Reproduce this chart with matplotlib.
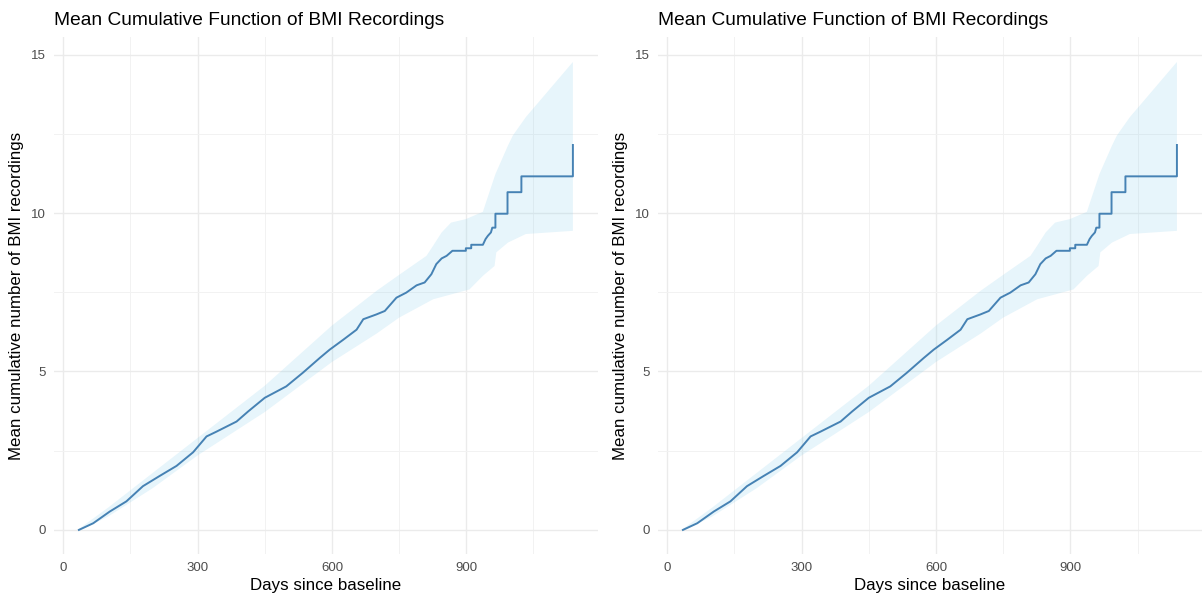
import matplotlib
matplotlib.use("Agg")
import matplotlib.pyplot as plt
from matplotlib.ticker import MultipleLocator

plt.rcParams['font.family'] = ['Liberation Sans', 'DejaVu Sans']

# Mean cumulative function (step path, corners listed in the late part)
mcf_days = [35, 67, 104, 141, 178, 215, 253, 290, 320, 342, 387, 413, 450, 498, 535,
            573, 595, 625, 655, 670, 699, 718, 744, 766, 789, 807, 822, 833, 845,
            856, 869, 899, 899, 911, 911, 937, 943, 948, 955, 958, 965, 965, 992, 992,
            1023, 1023, 1138, 1138]
mcf_vals = [0.0, 0.21, 0.58, 0.90, 1.38, 1.70, 2.02, 2.45, 2.95, 3.10, 3.42, 3.74, 4.17,
            4.53, 4.96, 5.43, 5.69, 6.00, 6.32, 6.65, 6.80, 6.91, 7.33, 7.49, 7.72, 7.81,
            8.07, 8.39, 8.57, 8.65, 8.81, 8.81, 8.89, 8.89, 9.00, 9.00, 9.18, 9.28, 9.39,
            9.54, 9.54, 9.98, 9.98, 10.66, 10.66, 11.16, 11.16, 12.15]

# Confidence band edges
upper_days = [35, 100, 200, 300, 450, 600, 700, 750, 811, 826, 845, 866, 899, 937, 944,
              965, 993, 1004, 1033, 1138]
upper_vals = [0.03, 0.70, 1.80, 2.90, 4.55, 6.45, 7.55, 8.05, 8.65, 8.97, 9.39, 9.70,
              9.81, 10.04, 10.34, 11.23, 12.13, 12.45, 13.03, 14.77]
lower_days = [35, 100, 200, 300, 450, 600, 700, 750, 826, 907, 937, 963, 967, 993, 1033, 1138]
lower_vals = [-0.03, 0.42, 1.32, 2.35, 3.72, 5.30, 6.20, 6.70, 7.28, 7.59, 8.02, 8.33,
              8.76, 9.07, 9.34, 9.44]

x_ticks = [0, 300, 600, 900]
y_ticks = [0, 5, 10, 15]
title = "Mean Cumulative Function of BMI Recordings"
xlabel = "Days since baseline"
ylabel = "Mean cumulative number of BMI recordings"

fig = plt.figure(figsize=(12.03, 6.03), dpi=100)
positions = [[0.0451, 0.0813, 0.4516, 0.8569], [0.5472, 0.0813, 0.4516, 0.8569]]

for pos in positions:
    ax = fig.add_axes(pos)
    poly_x = upper_days + lower_days[::-1]
    poly_y = upper_vals + lower_vals[::-1]
    ax.fill(poly_x, poly_y, color='#87CEEB', alpha=0.2, linewidth=0)
    ax.plot(mcf_days, mcf_vals, color='#4682B4', linewidth=1.4)
    ax.set_xlim(-20, 1193)
    ax.set_ylim(-0.76, 15.55)
    ax.set_xticks(x_ticks)
    ax.set_yticks(y_ticks)
    ax.xaxis.set_minor_locator(MultipleLocator(150))
    ax.yaxis.set_minor_locator(MultipleLocator(2.5))
    ax.grid(which='major', color='#EBEBEB', linewidth=1.0)
    ax.grid(which='minor', color='#F2F2F2', linewidth=0.7)
    ax.set_axisbelow(True)
    for s in ax.spines.values():
        s.set_visible(False)
    ax.tick_params(which='both', length=0, labelsize=9.5, labelcolor='#4D4D4D', pad=6)
    ax.set_xlabel(xlabel, fontsize=12.2, color='black', labelpad=3)
    ax.set_ylabel(ylabel, fontsize=12.2, color='black', labelpad=5)
    ax.set_title(title, fontsize=13.8, loc='left', pad=9, color='black')

fig.savefig("out.png", dpi=100)
